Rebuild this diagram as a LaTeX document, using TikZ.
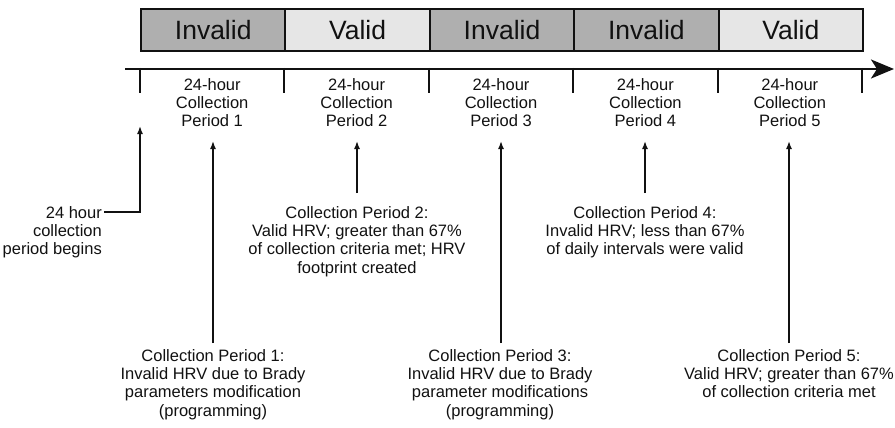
\documentclass[tikz,border=0pt]{standalone}
\usepackage{fontspec}
\setmainfont{Liberation Sans}
\usetikzlibrary{arrows.meta}
\definecolor{invgray}{HTML}{AFAFAF}
\definecolor{valgray}{HTML}{E6E6E6}
\definecolor{ink}{HTML}{111111}
\begin{document}
\begin{tikzpicture}[x=1pt,y=-1pt,
  cell/.style={draw=ink,line width=2pt,minimum width=144.4pt,minimum height=42pt,inner sep=0pt,anchor=north west,text=ink,font=\fontsize{26.5}{29}\selectfont},
  inv/.style={cell,fill=invgray},
  val/.style={cell,fill=valgray},
  lbl/.style={align=center,inner sep=0pt,anchor=north,text=ink,font=\fontsize{16.5}{18.3}\selectfont},
  tickline/.style={draw=ink,line width=2pt},
  up/.style={draw=ink,line width=1.5pt,-{Latex[length=8pt,width=6pt]}},
]
\useasboundingbox (0,0) rectangle (895,428);

% top status bar
\node[inv] (s1) at (140,8) {Invalid};
\node[val] (s2) at (284.4,8) {Valid};
\node[inv] (s3) at (428.8,8) {Invalid};
\node[inv] (s4) at (573.2,8) {Invalid};
\node[val] (s5) at (717.6,8) {Valid};

% time axis
\coordinate (axs) at (125,69);
\coordinate (axe) at (894,69);
\draw[draw=ink,line width=2.5pt,-{Stealth[length=23pt,width=19pt,inset=6pt]}] (axs) -- (axe);
\foreach \x in {140,284.4,428.8,573.2,717.6,862}
  \draw[tickline] (\x,68) -- (\x,93);

% period labels
\node[lbl] (p1) at (212.2,78) {24-hour\\Collection\\Period 1};
\node[lbl] (p2) at (356.6,78) {24-hour\\Collection\\Period 2};
\node[lbl] (p3) at (501,78) {24-hour\\Collection\\Period 3};
\node[lbl] (p4) at (645.4,78) {24-hour\\Collection\\Period 4};
\node[lbl] (p5) at (789.8,78) {24-hour\\Collection\\Period 5};

% start label
\node[lbl,anchor=north east,align=right] (st) at (102,206) {24 hour\\collection\\period begins};
\coordinate (sb) at (104,212);
\coordinate (stip) at (140,126);
\draw[up] (sb) -| (stip);

% descriptions
\node[lbl] (d1) at (213,349) {Collection Period 1:\\Invalid HRV due to Brady\\parameters modification\\(programming)};
\node[lbl] (d2) at (357,206) {Collection Period 2:\\Valid HRV; greater than 67\%\\of collection criteria met; HRV\\footprint created};
\node[lbl] (d3) at (500,349) {Collection Period 3:\\Invalid HRV due to Brady\\parameter modifications\\(programming)};
\node[lbl] (d4) at (645,206) {Collection Period 4:\\Invalid HRV; less than 67\%\\of daily intervals were valid};
\node[lbl] (d5) at (789,349) {Collection Period 5:\\Valid HRV; greater than 67\%\\of collection criteria met};

% arrows
\coordinate (b1) at (213,343); \coordinate (t1) at (213,141);
\coordinate (b2) at (357,193); \coordinate (t2) at (357,141);
\coordinate (b3) at (501,343); \coordinate (t3) at (501,141);
\coordinate (b4) at (645,193); \coordinate (t4) at (645,141);
\coordinate (b5) at (789,343); \coordinate (t5) at (789,141);
\foreach \i in {1,...,5} \draw[up] (b\i) -- (t\i);
\end{tikzpicture}
\end{document}
